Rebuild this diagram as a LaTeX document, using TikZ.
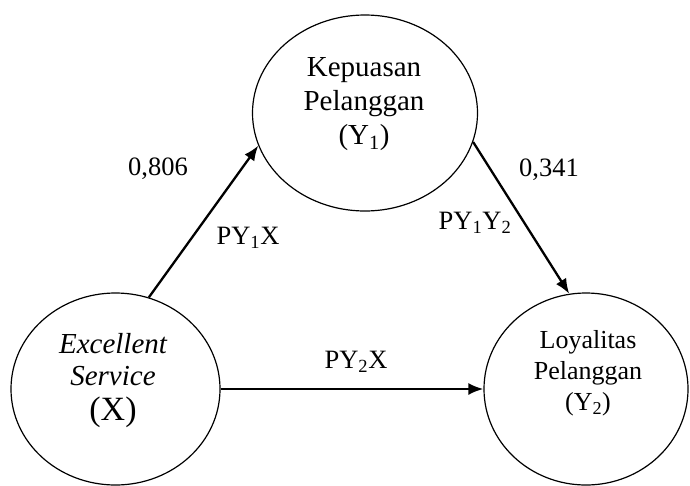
\documentclass[tikz,border=0pt]{standalone}
\usepackage{fontspec}
\setmainfont{Liberation Serif}
\usetikzlibrary{arrows.meta,shapes.geometric}
\begin{document}
\begin{tikzpicture}[x=1pt,y=-1pt,
  var/.style={draw=black,ellipse,line width=1.2pt,inner sep=0pt},
  txt/.style={align=center,inner sep=0pt},
  path/.style={draw=black,line width=2.3pt,-{Latex[length=15pt,width=12pt]}},
  lab/.style={inner sep=0pt,font=\fontsize{26.5}{30}\selectfont}]
\useasboundingbox (0,0) rectangle (690,485);
\node[var,minimum width=225pt,minimum height=196pt] (Y1) at (365,113) {};
\node[var,minimum width=209pt,minimum height=192pt] (X) at (115.5,389) {};
\node[var,minimum width=204pt,minimum height=192pt] (Y2) at (586,389) {};
\node[txt,font=\fontsize{29}{34}\selectfont] (tY1) at (364,104.5) {Kepuasan\\Pelanggan\\(Y\textsubscript{1})};
\node[txt,font=\fontsize{29}{32}\selectfont] (tX) at (113,380.5) {\itshape Excellent\\\itshape Service\\[3pt]\fontsize{34}{39}\selectfont(X)};
\node[txt,font=\fontsize{26}{31}\selectfont] (tY2) at (588,373.5) {Loyalitas\\Pelanggan\\(Y\textsubscript{2})};
\draw[path] (X.70.8) -- (Y1.197.6);
\draw[path] (Y1.-15) -- (Y2.100.5);
\draw[path] (X.east) -- (Y2.west);
\node[lab] (c1) at (158,169) {0,806};
\node[lab] (p1) at (248,238) {PY\textsubscript{1}X};
\node[lab] (c2) at (549,170) {0,341};
\node[lab] (p2) at (475,223) {PY\textsubscript{1}Y\textsubscript{2}};
\node[lab] (p3) at (356,362) {PY\textsubscript{2}X};
\end{tikzpicture}
\end{document}
